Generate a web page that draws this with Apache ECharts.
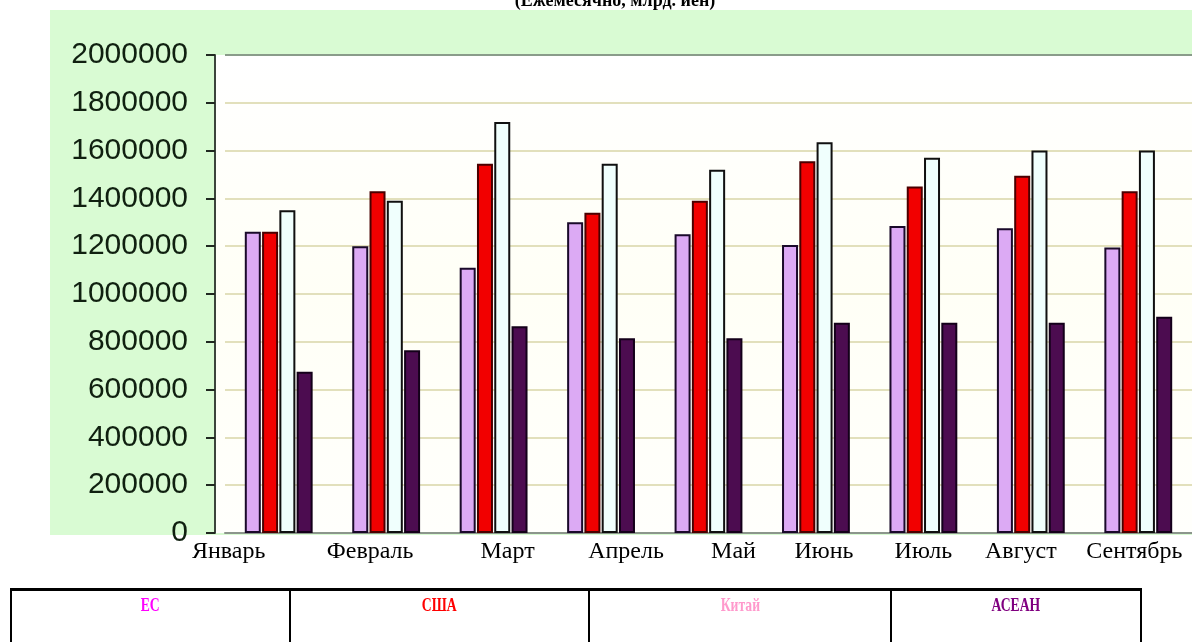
<!DOCTYPE html>
<html>
<head>
<meta charset="utf-8">
<title>Экспорт</title>
<script src="https://cdn.jsdelivr.net/npm/echarts@6/dist/echarts.min.js"></script>
<style>
    html, body { margin: 0; padding: 0; background: #fff; }
    #wrap { position: relative; width: 1192px; height: 642px; overflow: hidden; }
    #chart { position: absolute; left: 0; top: 0; width: 1192px; height: 642px; }
    .legend-tab {
        position: absolute; left: 10px; top: 588px; width: 1132px; height: 80px;
        border-collapse: collapse; table-layout: fixed;
        font-family: "Liberation Serif", "Times New Roman", serif; font-weight: bold; font-size: 19px;
    }
    .legend-tab td { border: 2px solid #000; border-top-width: 3px; text-align: center; vertical-align: top; padding-top: 3px; }
    .legend-tab span { display: inline-block; transform: scaleX(0.72); }
</style>
</head>
<body>
<div id="wrap">
    <div id="chart"></div>
    <table class="legend-tab">
        <tr>
            <td style="width:275px;color:#ff00ff"><span>ЕС</span></td>
            <td style="width:295px;color:#ff0000"><span>США</span></td>
            <td style="width:298px;color:#ff99cc"><span>Китай</span></td>
            <td style="color:#800080"><span>АСЕАН</span></td>
        </tr>
    </table>
</div>
<script>
// месяцы
var months = ['Январь', 'Февраль', 'Март', 'Апрель', 'Май', 'Июнь', 'Июль', 'Август', 'Сентябрь'];
// значения по регионам
var euData    = [1260000, 1200000, 1110000, 1300000, 1250000, 1205000, 1285000, 1275000, 1195000];
var usaData   = [1260000, 1430000, 1545000, 1340000, 1390000, 1555000, 1450000, 1495000, 1430000];
var chinaData = [1350000, 1390000, 1720000, 1545000, 1520000, 1635000, 1570000, 1600000, 1600000];
var aseanData = [675000, 765000, 865000, 815000, 815000, 880000, 880000, 880000, 905000];
var seriesNames = ['ЕС', 'США', 'Китай', 'АСЕАН'];
var yTicks = [0, 200000, 400000, 600000, 800000, 1000000, 1200000, 1400000, 1600000, 1800000, 2000000];

var barFill   = ['#dcaaf4', '#f20000', '#f0fffd', '#4c0c50'];
var barBorder = ['#1a0a2a', '#4a0000', '#101010', '#14001a'];

// подписи месяцев в оригинале стоят не по центру групп - сдвиг в px
var labelShift = [-50, -16, 14, 25, 25, 8, 0, -10, -4];

function makeBar(i, data) {
    return {
        name: seriesNames[i],
        type: 'bar',
        data: data,
        barWidth: 16,
        barGap: '8%',
        itemStyle: {
            color: barFill[i],
            borderColor: barBorder[i],
            borderWidth: 2
        }
    };
}

// цвета линий сетки: верхняя линия темнее
var gridColors = [];
for (var k = 0; k < yTicks.length; k++) {
    gridColors.push(k == yTicks.length - 1 ? '#8a9c8a' : '#e2e0bc');
}

// сдвиг подписи через несимметричный padding
var labelRich = {};
for (var m = 0; m < labelShift.length; m++) {
    var s = labelShift[m];
    labelRich['s' + m] = {
        fontFamily: 'Liberation Serif',
        fontSize: 24,
        color: '#000',
        padding: s < 0 ? [0, -2 * s, 0, 0] : [0, 0, 0, 2 * s]
    };
}

var chart = echarts.init(document.getElementById('chart'));
var option = {
    animation: false,
    backgroundColor: '#ffffff',
    title: {
        text: '(Ежемесячно, млрд. иен)',
        left: 610,
        top: -13,
        textAlign: 'center',
        textStyle: {
            fontFamily: 'Liberation Serif',
            fontWeight: 'bold',
            fontSize: 18,
            color: '#000'
        }
    },
    graphic: [
        {
            type: 'rect',
            z: -10,
            shape: { x: 50, y: 10, width: 1142, height: 525 },
            style: { fill: '#d9fbd3' }
        },
        {
            type: 'rect',
            z: -9,
            shape: { x: 215, y: 55, width: 977, height: 478 },
            style: {
                fill: new echarts.graphic.LinearGradient(0, 0, 0, 1, [
                    { offset: 0, color: '#ffffff' },
                    { offset: 0.5, color: '#fffff6' },
                    { offset: 1, color: '#fffffc' }
                ])
            }
        }
    ],
    grid: {
        left: 225,
        right: -5,
        top: 55,
        bottom: 109
    },
    xAxis: {
        type: 'category',
        data: months,
        axisLine: { lineStyle: { color: '#8c968c', width: 2 } },
        axisTick: { show: false },
        axisLabel: {
            interval: 0,
            margin: 7,
            fontFamily: 'Liberation Serif',
            fontSize: 24,
            color: '#000',
            formatter: function (v, i) { return '{s' + i + '|' + v + '}'; },
            rich: labelRich
        }
    },
    yAxis: {
        type: 'value',
        min: 0,
        max: 2000000,
        interval: 200000,
        offset: 10,
        axisLine: { show: true, lineStyle: { color: '#3c443c', width: 2 } },
        axisTick: { show: true, length: 9, lineStyle: { color: '#202820', width: 2 } },
        axisLabel: {
            margin: 27,
            fontFamily: 'Liberation Sans',
            fontSize: 30,
            color: '#102010',
            formatter: function (v) { return String(v); }
        },
        splitLine: { lineStyle: { color: gridColors, width: 2 } }
    },
    series: [
        makeBar(0, euData),
        makeBar(1, usaData),
        makeBar(2, chinaData),
        makeBar(3, aseanData)
    ]
};
chart.setOption(option);
</script>
</body>
</html>
